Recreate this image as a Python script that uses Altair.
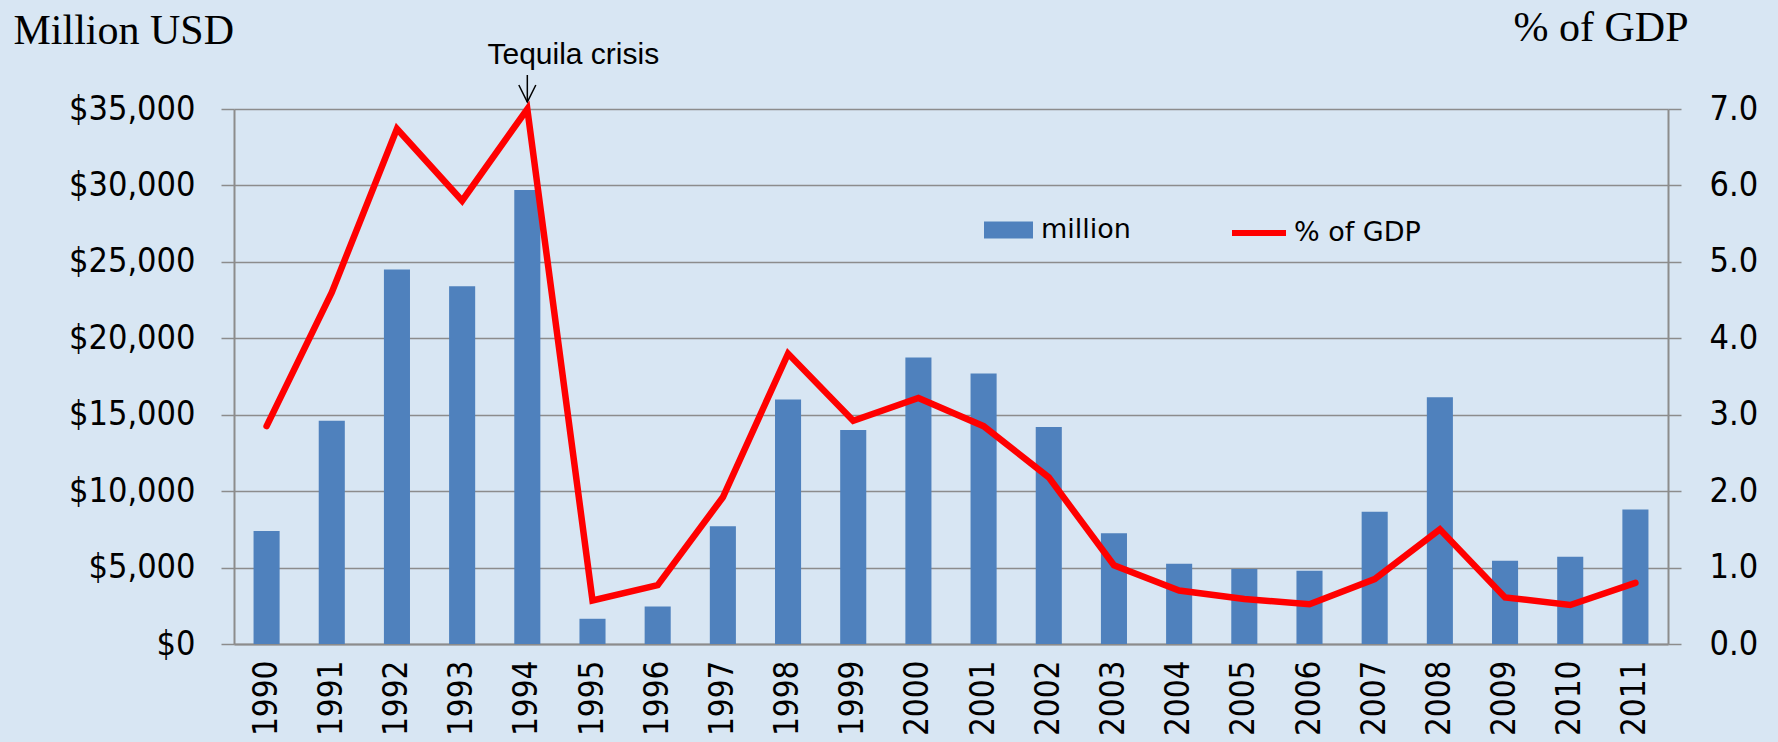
import altair as alt
import pandas as pd

years = ["1990", "1991", "1992", "1993", "1994", "1995", "1996", "1997", "1998", "1999", "2000",
         "2001", "2002", "2003", "2004", "2005", "2006", "2007", "2008", "2009", "2010", "2011"]
million = [7400, 14600, 24500, 23400, 29700, 1650, 2450, 7700, 16000, 14000, 18750,
           17700, 14200, 7250, 5250, 4900, 4800, 8650, 16150, 5450, 5700, 8800]
pct_gdp = [2.85, 4.6, 6.74, 5.8, 7.0, 0.57, 0.77, 1.92, 3.8, 2.92, 3.22,
           2.85, 2.18, 1.03, 0.7, 0.59, 0.52, 0.85, 1.5, 0.61, 0.51, 0.8]

left_ticks = [0, 5000, 10000, 15000, 20000, 25000, 30000, 35000]
right_ticks = [0, 1, 2, 3, 4, 5, 6, 7]

annot_year = ["1994"]
annot_text = ["Tequila crisis"]
annot_text_y = [37944]
arrow_top = [37225]
arrow_tip = [35458]

df = pd.DataFrame({"year": years, "million": million, "pct": pct_gdp})
df["s1"] = "million"
df["s2"] = "% of GDP"
ann = pd.DataFrame({"year": annot_year, "label": annot_text, "ty": annot_text_y,
                    "top": arrow_top, "tip": arrow_tip})

GRID = "#8c8c8c"
TICK_FONT = "DejaVu Sans Condensed"
PLOT_W, PLOT_H = 1434, 535

x_enc = alt.X("year:N", sort=years,
              scale=alt.Scale(paddingInner=0.6, paddingOuter=0.3),
              axis=alt.Axis(title=None, labelAngle=-90, labelFont=TICK_FONT, labelFontSize=33,
                            labelColor="black", ticks=False, labelPadding=16,
                            domainColor=GRID, domainWidth=2, grid=False))

yscale_left = alt.Scale(domain=[0, 35000], nice=False, zero=True)
yscale_right = alt.Scale(domain=[0, 7], nice=False, zero=True)

bars = alt.Chart(df).mark_bar(color="#4F81BD").encode(
    x=x_enc,
    y=alt.Y("million:Q", scale=yscale_left,
            axis=alt.Axis(orient="left", values=left_ticks, format="$,.0f",
                          title="Million USD", titleFont="Liberation Serif", titleFontSize=42,
                          titleFontWeight="normal", titleColor="black", titleAngle=0,
                          titleAlign="left", titleBaseline="alphabetic", titleX=-221, titleY=-66,
                          labelFont=TICK_FONT, labelFontSize=34, labelColor="black",
                          labelPadding=26, tickSize=13, tickColor=GRID, tickWidth=1.5,
                          domainColor=GRID, domainWidth=2, grid=True, gridColor=GRID,
                          gridWidth=1.5)),
    color=alt.Color("s1:N", scale=alt.Scale(range=["#4F81BD"]),
                    legend=alt.Legend(orient="none", legendX=750, legendY=96.5, title=None,
                                      symbolType="M-1,-0.347H1V0.347H-1Z", symbolSize=2401,
                                      symbolStrokeWidth=0, labelFont="DejaVu Sans",
                                      labelFontSize=27, labelColor="black", labelOffset=8,
                                      padding=0)),
)

arrow_shaft = alt.Chart(ann).mark_rule(color="black", strokeWidth=1.5).encode(
    x=alt.X("year:N", sort=years), y=alt.Y("top:Q", scale=yscale_left), y2="tip:Q")
arrow_head = alt.Chart(ann).mark_point(shape="M-0.5,-1L0,0L0.5,-1", size=1156, filled=False,
                                       color="black", strokeWidth=1.5, opacity=1).encode(
    x=alt.X("year:N", sort=years), y=alt.Y("tip:Q", scale=yscale_left))
annot = alt.Chart(ann).mark_text(font="Liberation Sans", fontSize=30, dx=46,
                                 baseline="alphabetic", align="center", color="black").encode(
    x=alt.X("year:N", sort=years), y=alt.Y("ty:Q", scale=yscale_left), text="label:N")

left_group = alt.layer(bars, arrow_shaft, arrow_head, annot)

line = alt.Chart(df).mark_line(strokeWidth=6.5, strokeJoin="miter", strokeCap="round").encode(
    x=alt.X("year:N", sort=years),
    y=alt.Y("pct:Q", scale=yscale_right,
            axis=alt.Axis(orient="right", values=right_ticks, format=".1f",
                          title="% of GDP", titleFont="Liberation Serif", titleFontSize=42,
                          titleFontWeight="normal", titleColor="black", titleAngle=0,
                          titleAlign="right", titleBaseline="alphabetic", titleX=20, titleY=-69,
                          labelFont=TICK_FONT, labelFontSize=34, labelColor="black",
                          labelPadding=28, tickSize=13, tickColor=GRID, tickWidth=1.5,
                          domainColor=GRID, domainWidth=2, grid=False)),
    stroke=alt.Stroke("s2:N", scale=alt.Scale(range=["#FF0000"]),
                      legend=alt.Legend(orient="none", legendX=995, legendY=94, title=None,
                                        symbolType="stroke", symbolSize=2916,
                                        symbolStrokeWidth=6, labelFont="DejaVu Sans",
                                        labelFontSize=27, labelColor="black", labelOffset=5,
                                        padding=0)),
)

chart = alt.layer(left_group, line).resolve_scale(
    y="independent", color="independent", stroke="independent"
).resolve_legend(color="independent", stroke="independent").properties(
    width=PLOT_W, height=PLOT_H,
    autosize=alt.AutoSizeParams(type="none"),
    padding={"left": 234, "top": 109, "right": 110, "bottom": 98},
    background="#d8e6f3",
).configure_view(strokeWidth=0)

chart.save("out.html", embed_options={"renderer": "svg", "actions": False})
